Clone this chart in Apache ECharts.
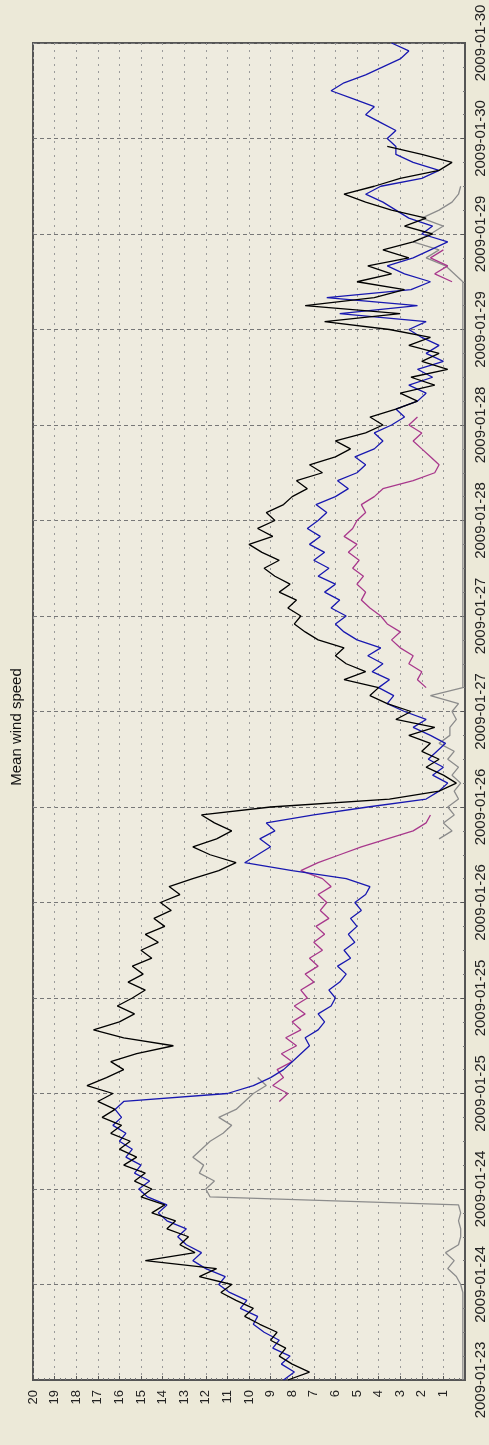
<!DOCTYPE html>
<html><head><meta charset="utf-8">
<script src="https://cdn.jsdelivr.net/npm/echarts@6/dist/echarts.min.js"></script>
<style>html,body{margin:0;padding:0;background:#ECE9D8;}#c{width:489px;height:1445px;}</style>
</head><body><div id="c"></div>
<script>
const titleText = 'Mean wind speed';
const startDay = 23;
const stepHours = 1;
const valueTicks = [0, 20, 1];
const timeTicks = [0, 168, 12];
// hourly samples from 2009-01-23 00:00
const black = [
8.2,7.2,8.0,8.6,8.3,9.0,8.7,9.5,10.2,9.8,10.6,11.3,10.8,12.3,11.5,14.8,12.5,13.2,12.8,13.8,13.4,14.5,13.9,15.0,14.5,
15.3,14.8,15.8,15.2,16.0,15.5,16.4,15.9,16.8,16.2,17.0,16.3,17.5,16.6,15.8,16.4,15.2,13.5,15.8,17.2,16.0,15.3,16.1,15.4,
14.8,15.6,14.9,15.4,14.5,15.0,14.2,14.8,13.9,14.4,13.6,14.1,13.2,13.7,12.6,11.4,10.6,11.8,12.6,11.5,10.8,11.6,12.2,9.0,
3.5,1.2,0.4,1.0,1.8,1.2,2.0,1.6,2.6,1.4,3.2,2.5,3.6,4.4,4.0,5.6,4.6,5.5,6.0,5.6,6.8,7.4,7.9,7.6,8.2,7.8,8.6,8.1,8.8,9.3,
8.6,9.4,10.0,8.9,9.6,8.8,9.2,8.4,8.0,7.3,7.8,6.6,7.2,6.0,5.3,6.0,4.6,3.8,4.4,3.2,2.2,3.0,1.4,2.5,0.8,2.0,1.2,2.6,1.6,3.5,
6.5,3.0,7.4,4.2,2.8,5.0,3.4,4.5,2.6,3.8,2.4,1.5,2.8,1.8,3.4,4.6,5.6,4.2,3.0,1.2,0.6,2.0,3.6,
null,null,null,null,null,null,null,null,null,null,null,null,null];
const blue = [
8.4,7.9,8.5,8.1,8.9,8.6,9.3,9.8,9.6,10.4,10.1,10.9,11.4,11.1,12.0,12.6,12.2,12.9,13.3,12.9,13.8,14.2,13.8,14.7,15.1,
14.6,15.3,15.0,15.7,15.4,16.0,15.7,16.3,15.9,16.2,15.8,11.0,9.8,9.0,8.4,8.0,7.6,7.2,7.4,6.8,6.5,6.8,6.2,6.0,
6.3,5.8,5.5,5.9,5.3,5.6,5.1,5.4,5.0,5.3,4.8,5.1,4.6,4.4,5.5,8.0,10.2,9.6,9.0,9.5,8.8,9.2,7.0,4.5,
1.8,1.2,0.8,1.5,1.0,1.7,1.3,0.9,1.6,2.4,1.8,2.8,3.6,3.3,4.0,3.5,4.3,3.8,4.5,3.9,5.0,5.6,6.0,5.5,6.2,5.8,6.5,6.0,6.8,6.3,
7.0,6.5,7.2,6.7,7.3,6.8,6.4,6.9,6.0,5.4,5.9,5.0,4.6,5.1,4.2,3.8,4.2,3.4,2.8,3.2,2.2,1.8,2.6,1.5,2.2,1.0,1.8,1.2,2.0,2.6,
1.8,5.8,2.2,6.4,2.5,1.6,2.8,3.6,2.4,1.6,0.8,2.0,1.5,2.6,3.2,3.8,4.6,3.9,2.0,1.2,2.4,3.2,3.2,
3.6,3.2,3.9,4.6,4.2,5.2,6.2,5.6,4.6,3.8,3.0,2.6,3.4];
const magenta = [
null,null,null,null,null,null,null,null,null,null,null,null,null,null,null,null,null,null,null,null,null,null,null,null,null,
null,null,null,null,null,null,null,null,null,null,8.6,8.2,8.9,8.4,8.7,8.0,8.5,7.8,8.3,7.6,8.0,7.4,7.9,7.3,
7.6,7.0,7.4,6.8,7.2,6.6,7.0,6.5,6.9,6.3,6.7,6.4,6.8,6.2,6.6,7.6,6.8,5.8,4.8,3.6,2.4,1.8,1.6,null,
null,null,null,null,null,null,null,null,null,null,null,null,null,null,1.8,2.2,2.0,2.6,2.4,3.0,3.4,3.0,3.6,3.9,4.4,4.8,4.6,5.0,
4.7,5.2,4.9,5.4,5.0,5.6,5.2,5.0,4.6,4.8,4.2,3.8,2.4,1.4,1.2,1.6,2.0,2.4,2.0,2.6,2.2,null,null,null,null,null,null,null,null,null,
null,null,null,null,null,null,null,0.6,1.4,0.8,1.6,1.0,null,null,null,null,null,null,null,null,null,null,null,null,
null,null,null,null,null,null,null,null,null,null,null,null,null];
const grey = [
0.1,0.1,0.1,0.1,0.1,0.1,0.1,0.1,0.1,0.1,0.1,0.1,0.2,0.4,0.8,0.5,0.9,0.3,0.2,0.2,0.3,0.2,0.3,11.8,12.0,
11.6,12.3,12.1,12.6,12.2,11.8,11.2,10.8,11.4,10.6,10.2,9.8,9.2,9.6,null,null,null,null,null,null,null,null,null,null,
null,null,null,null,null,null,null,null,null,null,null,null,null,null,null,null,null,null,null,1.2,0.6,1.0,0.5,0.8,
0.3,0.5,0.2,0.6,0.3,0.8,0.5,1.2,0.7,0.7,0.4,0.6,0.3,1.6,0.1,0.1,0.1,0.1,0.1,0.1,0.1,0.1,0.1,0.1,0.1,0.1,0.1,0.1,
0.1,0.1,0.1,0.1,0.1,0.1,0.1,0.1,0.1,0.1,0.1,0.1,0.1,0.1,0.1,0.1,0.1,0.1,0.1,0.1,0.1,0.1,0.1,0.1,0.1,0.1,0.1,0.1,0.1,0.1,
0.1,0.1,0.1,0.1,0.1,0.1,0.1,0.1,0.5,0.9,1.8,1.2,2.4,1.6,1.0,2.0,1.2,0.6,0.3,0.2,null,null,
null,null,null,null,null,null,null,null,null,null,null,null,null,null,null,null,null];

function pts(arr){ return arr.map((v,i)=>[v, i*stepHours]); }
const chart = echarts.init(document.getElementById('c'), null, {renderer:'canvas'});
const font = 'Liberation Sans, Arial, sans-serif';
chart.setOption({
  backgroundColor: '#ECE9D8',
  animation: false,
  grid: {left:33, right:24, top:43, bottom:65, show:true, backgroundColor:'#EEEBDF', borderColor:'#555', borderWidth:2},
  xAxis: {type:'value', inverse:true, position:'bottom', min:valueTicks[0], max:valueTicks[1], interval:valueTicks[2],
    axisLine:{show:true, lineStyle:{color:'#555', width:2}},
    axisTick:{show:true, inside:true, length:4, lineStyle:{color:'#555'}},
    minorTick:{show:true, splitNumber:4, length:2, lineStyle:{color:'#777'}},
    axisLabel:{rotate:90, margin:10, fontSize:13, fontFamily:font, color:'#222', formatter:v=> v===0 ? '' : String(v)},
    splitLine:{show:true, lineStyle:{color:'#9a9a9a', type:[2,5], width:1}}},
  yAxis: {type:'value', position:'right', min:timeTicks[0], max:timeTicks[1], interval:timeTicks[2],
    axisLine:{show:true, lineStyle:{color:'#555', width:2}},
    axisTick:{show:true, inside:true, length:4, lineStyle:{color:'#555'}},
    minorTick:{show:true, splitNumber:4, length:2, lineStyle:{color:'#777'}},
    axisLabel:{rotate:90, margin:8, fontSize:15, fontFamily:font, color:'#222', interval:0, hideOverlap:false,
      formatter:v=>'2009-01-' + String(startDay + Math.round(v/24)).padStart(2,'0')},
    splitLine:{show:true, lineStyle:{color:'#777', type:[4,3], width:1}}},
  graphic: [{type:'text', x:17, y:727, rotation:Math.PI/2, style:{text:titleText, font:'15px Liberation Sans, Arial, sans-serif', fill:'#111', textAlign:'center', textVerticalAlign:'middle'}}],
  series: [
    {name:'grey', type:'line', data:pts(grey), showSymbol:false, connectNulls:false, lineStyle:{color:'#8c8c8c', width:1.3}, z:2},
    {name:'magenta', type:'line', data:pts(magenta), showSymbol:false, lineStyle:{color:'#A8388C', width:1.3}, z:3},
    {name:'blue', type:'line', data:pts(blue), showSymbol:false, lineStyle:{color:'#1818B0', width:1.3}, z:4},
    {name:'black', type:'line', data:pts(black), showSymbol:false, lineStyle:{color:'#000', width:1.3}, z:5}
  ]
});
</script></body></html>
